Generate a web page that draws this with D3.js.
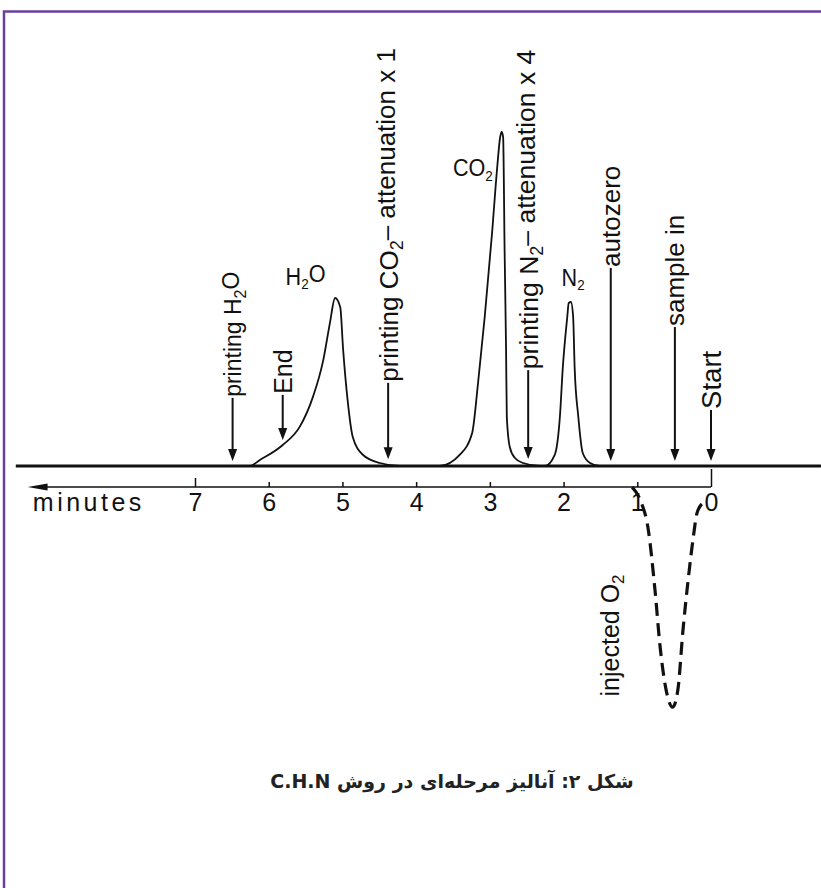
<!DOCTYPE html>
<html lang='en'>
<head>
<meta charset='UTF-8'>
<title>C.H.N - chromatogram</title>
<script src='https://d3js.org/d3.v7.min.js'></script>
<style>
   body { margin: 0; background: #fff; }
   svg { display: block; }
   .lbl { font-family: 'Liberation Sans', Arial, sans-serif; fill: #111; }
   .tick text { font-family: 'Liberation Sans', Arial, sans-serif; font-size: 25px; fill: #111; }
   .tick line { stroke: #111; stroke-width: 1.5; }
</style>
</head>
<body>
<div id='svg-container'></div>
<script>
   // detector trace, [minutes, signal] (CO2 peak = 100)
   const traceEnds = [[9.43, 0], [-1.49, 0]];
   const h2oPeak = [[6.26, 0], [6.12, 1.8], [5.81, 6.3], [5.58, 11.7], [5.40, 20.7], [5.26, 31.7], [5.17, 42.8],
      [5.10, 50.3], [5.03, 47.6], [4.99, 34.7], [4.93, 19.8], [4.86, 8.7], [4.72, 3.3], [4.49, 0.9], [4.22, 0]];
   const co2Peak = [[3.68, 0], [3.41, 3.3], [3.24, 9.9], [3.16, 24.9], [3.07, 44.6], [2.97, 69.8], [2.90, 89.5],
      [2.86, 98.5], [2.84, 100], [2.82, 98.5], [2.80, 64.7], [2.78, 34.7], [2.77, 14.7], [2.73, 5.7], [2.66, 2.4],
      [2.55, 0.9], [2.32, 0]];
   const n2Peak = [[2.25, 0], [2.12, 3.3], [2.05, 14.7], [2.01, 29.6], [1.95, 44.6], [1.93, 48.8], [1.90, 49.1],
      [1.87, 44.6], [1.85, 29.6], [1.80, 14.7], [1.74, 3.9], [1.64, 0.9], [1.51, 0]];
   // injected O2, dashed negative peak
   const o2Dip = [[1.07, -6.3], [0.96, -10.2], [0.85, -19.2], [0.76, -37.1], [0.69, -54.2], [0.60, -68.0],
      [0.52, -72.2], [0.45, -67.1], [0.38, -49.1], [0.31, -34.1], [0.24, -21.3], [0.19, -14.1], [0.11, -11.1]];

   // event markers (odd parts of a label are subscripts)
   const markerMinutes = [6.49, 5.81, 4.38, 2.48, 1.36, 0.49, 0.0];
   const markerLabels = [['printing H', '2', 'O'], ['End'], ['printing CO', '2', '– attenuation x 1'],
      ['printing N', '2', '– attenuation x 4'], ['autozero'], ['sample in'], ['Start']];
   const markerStem = [20.4, 21.3, 24.9, 28.7, 59.3, 41.6, 16.8];
   const markerFont = [23, 25, 26, 26.5, 26, 26, 27.5];

   const peakNames = [['H', '2', 'O'], ['CO', '2'], ['N', '2']];
   const peakLabelMinutes = [5.50, 3.23, 1.87];
   const peakLabelSignal = [54.2, 86.8, 53.9];

   const dipLabel = ['injected O', '2'];
   const dipLabelMinute = 1.37;
   const dipLabelSignal = -69;

   const tickMinutes = [7, 6, 5, 4, 3, 2, 1, 0];
   const axisTitle = 'minutes';
   const caption = 'شکل ۲: آنالیز مرحله‌ای در روش C.H.N';

   const W = 821, H = 888;
   const svg = d3.select('#svg-container').append('svg').attr('width', W).attr('height', H);

   // purple frame
   svg.append('path').attr('d', `M4,${H} V11.5 H${W}`)
      .attr('fill', 'none').attr('stroke', '#6a3fa0').attr('stroke-width', 2.5);

   const x = d3.scaleLinear().domain([0, 7]).range([711, 195]);
   const y = d3.scaleLinear().domain([0, 100]).range([466, 132]);
   const axisY = 487;

   const trace = [traceEnds[0], ...h2oPeak, ...co2Peak, ...n2Peak, traceEnds[1]];
   const line = d3.line().x(d => x(d[0])).y(d => y(d[1])).curve(d3.curveMonotoneX);

   // thick baseline + trace
   svg.append('line')
      .attr('x1', x(traceEnds[0][0])).attr('x2', x(traceEnds[1][0]))
      .attr('y1', y(0)).attr('y2', y(0))
      .attr('stroke', '#111').attr('stroke-width', 3);
   svg.append('path').datum(trace).attr('d', line)
      .attr('fill', 'none').attr('stroke', '#111').attr('stroke-width', 1.8);

   // dashed O2 dip
   svg.append('path').datum(o2Dip).attr('d', line)
      .attr('fill', 'none').attr('stroke', '#111').attr('stroke-width', 3.2)
      .attr('stroke-dasharray', '13,7');

   const signalAt = m => {
      for (let i = 1; i < trace.length; i++) {
         const a = trace[i - 1], b = trace[i];
         if (m <= a[0] && m >= b[0]) {
            const t = (a[0] - m) / (a[0] - b[0]);
            return a[1] + t * (b[1] - a[1]);
         }
      }
      return 0;
   };

   const addParts = (sel, parts, subSize) => {
      parts.forEach((p, i) => {
         const ts = sel.append('tspan').text(p);
         if (i % 2 === 1) ts.attr('font-size', subSize).attr('dy', '0.3em');
         else if (i > 0) ts.attr('dy', '-0.3em');
      });
   };

   // markers
   markerMinutes.forEach((m, i) => {
      const px = x(m);
      const tip = y(signalAt(m)) - 5;
      const top = y(markerStem[i]);
      const g = svg.append('g');
      g.append('line').attr('x1', px).attr('x2', px).attr('y1', top).attr('y2', tip - 8)
         .attr('stroke', '#111').attr('stroke-width', 2);
      g.append('path').attr('d', `M${px - 4.5},${tip - 12} L${px + 4.5},${tip - 12} L${px},${tip} Z`)
         .attr('fill', '#111');
      const t = g.append('text').attr('class', 'lbl')
         .attr('transform', `translate(${px},${top}) rotate(-90)`)
         .attr('x', 1).attr('dy', '0.36em')
         .attr('font-size', markerFont[i]);
      addParts(t, markerLabels[i], Math.round(markerFont[i] * 0.68));
   });

   // peak labels
   peakNames.forEach((parts, i) => {
      const t = svg.append('text').attr('class', 'lbl')
         .attr('transform', `translate(${x(peakLabelMinutes[i])},${y(peakLabelSignal[i])}) scale(0.9,1)`)
         .attr('text-anchor', 'middle').attr('font-size', 24);
      addParts(t, parts, 15);
   });

   // injected O2 label
   const dl = svg.append('text').attr('class', 'lbl')
      .attr('transform', `translate(${x(dipLabelMinute)},${y(dipLabelSignal)}) rotate(-90)`)
      .attr('dy', '0.36em').attr('font-size', 25);
   addParts(dl, dipLabel, 17);

   // time axis
   const axis = d3.axisBottom(x).tickValues(tickMinutes).tickFormat(d3.format('d'))
      .tickSize(-5).tickSizeOuter(0).tickPadding(6);
   const ag = svg.append('g').attr('transform', `translate(0,${axisY})`).call(axis);
   ag.select('.domain').remove();
   ag.selectAll('.tick').filter(d => d === 0).select('line').attr('y2', -18);
   ag.selectAll('.tick').filter(d => d === 7).select('line').attr('y2', -9);
   ag.append('line').attr('x1', x(9.05)).attr('x2', x(0)).attr('y1', 0).attr('y2', 0)
      .attr('stroke', '#111').attr('stroke-width', 1.6);
   ag.append('path')
      .attr('d', `M${x(9.27)},0 L${x(9.0)},-3.5 L${x(9.0)},3.5 Z`).attr('fill', '#111');
   ag.append('text').attr('class', 'lbl')
      .attr('x', x(9.2)).attr('y', 24)
      .attr('text-anchor', 'start')
      .attr('font-size', 25).attr('letter-spacing', 3.5)
      .text(axisTitle);

   // caption
   svg.append('text')
      .attr('x', 452).attr('y', 788)
      .attr('text-anchor', 'middle').attr('direction', 'rtl')
      .attr('font-family', "'DejaVu Sans', sans-serif").attr('font-weight', 'bold')
      .attr('font-size', 19).attr('fill', '#222')
      .text(caption);
</script>
</body>
</html>
